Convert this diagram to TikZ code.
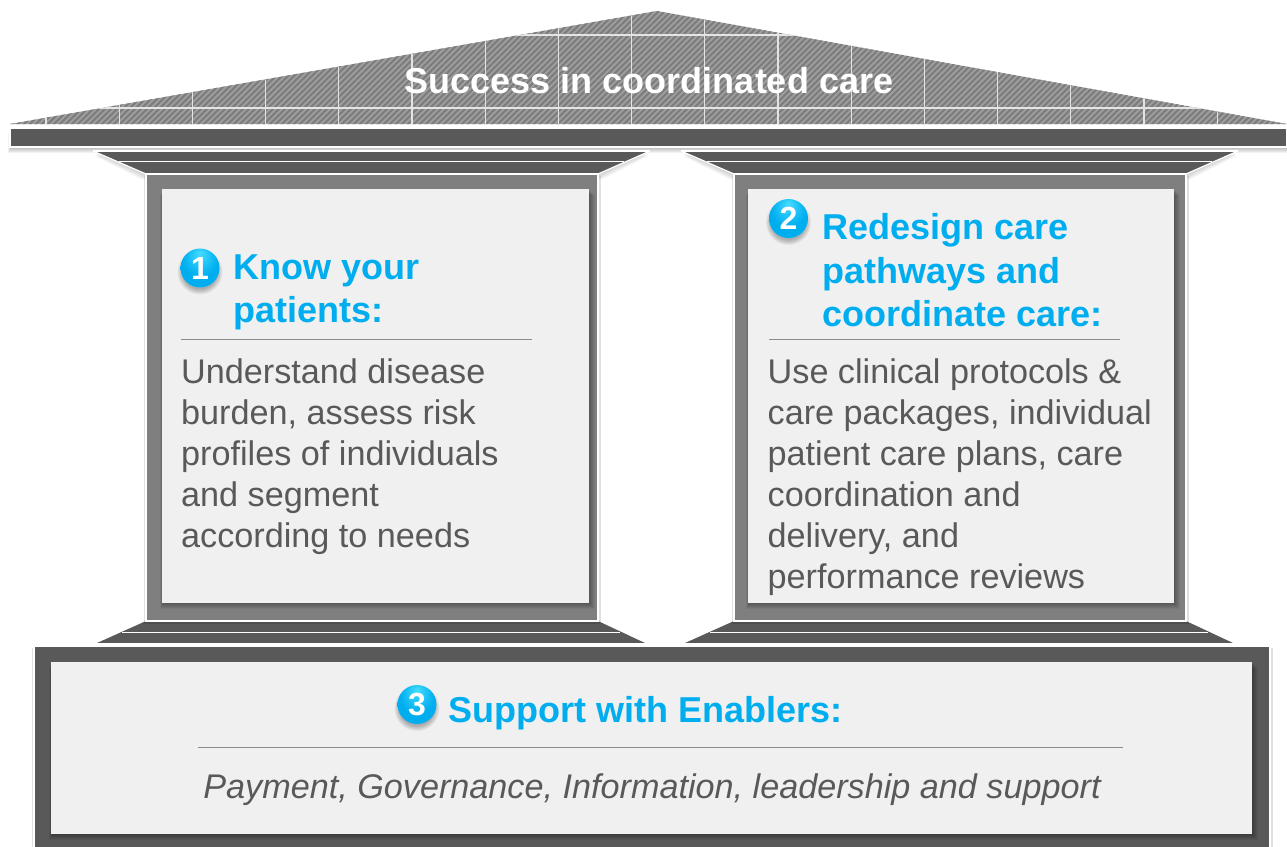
\documentclass[tikz,border=0pt]{standalone}
\usepackage{fontspec}
\setmainfont{Liberation Sans}
\usetikzlibrary{shadings}
\definecolor{beamgray}{HTML}{595959}
\definecolor{colgray}{HTML}{7F7F7F}
\definecolor{panelgray}{HTML}{F0F0F0}
\definecolor{headblue}{HTML}{00AEEF}
\definecolor{bodygray}{HTML}{595959}
\definecolor{rulegray}{HTML}{8C8C8C}
\definecolor{hatchlight}{HTML}{A0A0A0}
\definecolor{hatchdark}{HTML}{7E7E7E}
\definecolor{gridline}{HTML}{E4E4E4}
\definecolor{roofedge}{HTML}{C8C8C8}
\definecolor{balltop}{HTML}{45DCFF}
\definecolor{ballmid}{HTML}{00AEEF}
\definecolor{ballrim}{HTML}{0B7FB0}
\pgfdeclareradialshading{blueball}{\pgfpoint{0bp}{20bp}}{%
  color(0bp)=(balltop); color(22bp)=(ballmid); color(43bp)=(ballmid); color(50bp)=(ballrim)}
\newcommand{\softrect}[5]{% x1 y1 x2 y2 opacity
  \foreach \gr in {1,...,6}
    \fill[black,opacity=#5] ({#1-0.5*\gr+1},{#2+\gr}) rectangle ({#3+\gr},{#4+\gr});
}
\tikzset{
  beambox/.style={draw=white,line width=1.4pt,fill=beamgray},
  columnbox/.style={draw=white,line width=1.4pt,fill=colgray},
  basebox/.style={draw=white,line width=1.4pt,fill=beamgray},
  panelbox/.style={fill=panelgray},
  capital/.style={fill=beamgray},
  capwhite/.style={draw=white,line width=1.2pt},
  headtext/.style={anchor=base west,inner sep=0pt,align=left,text=headblue,font=\fontsize{36}{43.5}\selectfont\bfseries},
  bodytext/.style={anchor=base west,inner sep=0pt,align=left,text=bodygray,font=\fontsize{34.2}{41}\selectfont},
  rulem/.style={draw=rulegray,line width=1pt},
  ball/.style={circle,minimum size=39pt,inner sep=0pt,text=white,
    font=\fontsize{32}{32}\selectfont\bfseries,shading=blueball},
}
\begin{document}
\begin{tikzpicture}[x=1pt,y=-1pt]
\useasboundingbox (0,0) rectangle (1287,846);
% roof
\begin{scope}
  \clip (10,124) -- (657,11) -- (1287,124) -- cycle;
  \fill[hatchlight] (0,0) rectangle (1287,130);
  \foreach \k in {0,6,...,1420}
    \draw[hatchdark,line width=2.2pt] (\k,130) -- ++(130,-130);
  \foreach \k in {46,119.2,...,1290}
    \draw[gridline,line width=1.3pt] (\k,0) -- (\k,130);
  \foreach \k in {35,108}
    \draw[gridline,line width=1.3pt] (0,\k) -- (1287,\k);
\end{scope}
% beam
\softrect{10}{128}{1287}{147}{.05}
\path[beambox] (10,128) rectangle (1287,147);
% capitals upper
\foreach \a/\b/\c/\d in {93/650/146/598,681/1238/734/1186}{
  \foreach \gr in {1,...,5}
    \fill[black,opacity=.04] ({\a+2},{151+\gr}) -- ({\b-2},{151+\gr}) -- ({\d+\gr},{174+\gr}) -- ({\c-\gr},{174+\gr}) -- cycle;
  \fill[capital] (\a,151) -- (\b,151) -- (\d,174) -- (\c,174) -- cycle;
  \draw[capwhite] (\a,151) -- (\b,151);
  \draw[capwhite] (\a,151) -- (\c,174) (\b,151) -- (\d,174);
  \draw[capwhite] ({\a+26},161.5) -- ({\b-26},161.5);
}
% base
\fill[black,opacity=.12] (32,648) rectangle (1273,860);
\path[basebox] (34,646) rectangle (1270,860);
% capitals lower
\foreach \a/\b/\c/\d in {97/645/146/598,685/1233/734/1186}{
  \fill[capital] (\c,621) -- (\d,621) -- (\b,643) -- (\a,643) -- cycle;
  \draw[capwhite] ({\a+25},632.5) -- ({\b-25},632.5);
  \draw[capwhite] (\a,644) -- (\b,644);
}
% columns
\fill[black,opacity=.12] (143.5,176) rectangle (601,624);
\fill[black,opacity=.12] (731.5,176) rectangle (1189,624);
\path[columnbox] (146,174) rectangle (598,621);
\path[columnbox] (734,174) rectangle (1186,621);
% panels
\softrect{162}{189}{589}{603}{.055}
\softrect{748}{189}{1174}{603}{.055}
\softrect{51}{662}{1252}{834}{.055}
\path[panelbox] (162,189) rectangle (589,603);
\path[panelbox] (748,189) rectangle (1174,603);
\path[panelbox] (51,662) rectangle (1252,834);
% rules
\coordinate (r1a) at (181,339.5); \coordinate (r1b) at (532,339.5);
\coordinate (r2a) at (769,339.5); \coordinate (r2b) at (1120,339.5);
\coordinate (r3a) at (198,747.5); \coordinate (r3b) at (1123,747.5);
\draw[rulem] (r1a) -- (r1b);
\draw[rulem] (r2a) -- (r2b);
\draw[rulem] (r3a) -- (r3b);
% ball shadows
\foreach \x/\y in {200/268,788.5/218.5,417/704.5}
  \foreach \gr in {1,...,6}
    \fill[black,opacity=.05] (\x,{\y+4}) circle ({16.5+\gr});
% balls
\node[ball] (b1) at (200,268) {1};
\node[ball] (b2) at (788.5,218.5) {2};
\node[ball] (b3) at (417,704.5) {3};
% text
\node[anchor=base,inner sep=0pt,text=white,font=\fontsize{36}{40}\selectfont\bfseries] (roof) at (649,93.5) {Success in coordinated care};
\node[headtext] (h1) at (233,322.5) {Know your\\patients:};
\node[headtext] (h2) at (822,326.5) {Redesign care\\pathways and\\coordinate care:};
\node[headtext] (h3) at (448,722.5) {Support with Enablers:};
\node[bodytext] (t1) at (181,547) {Understand disease\\burden, assess risk\\profiles of individuals\\and segment\\according to needs};
\node[bodytext] (t2) at (767.5,588) {Use clinical protocols \&\\care packages, individual\\patient care plans, care\\coordination and\\delivery, and\\performance reviews};
\node[anchor=base,inner sep=0pt,text=bodygray,font=\fontsize{34.2}{41}\selectfont\itshape] (t3) at (652,798) {Payment, Governance, Information, leadership and support};
\end{tikzpicture}
\end{document}
